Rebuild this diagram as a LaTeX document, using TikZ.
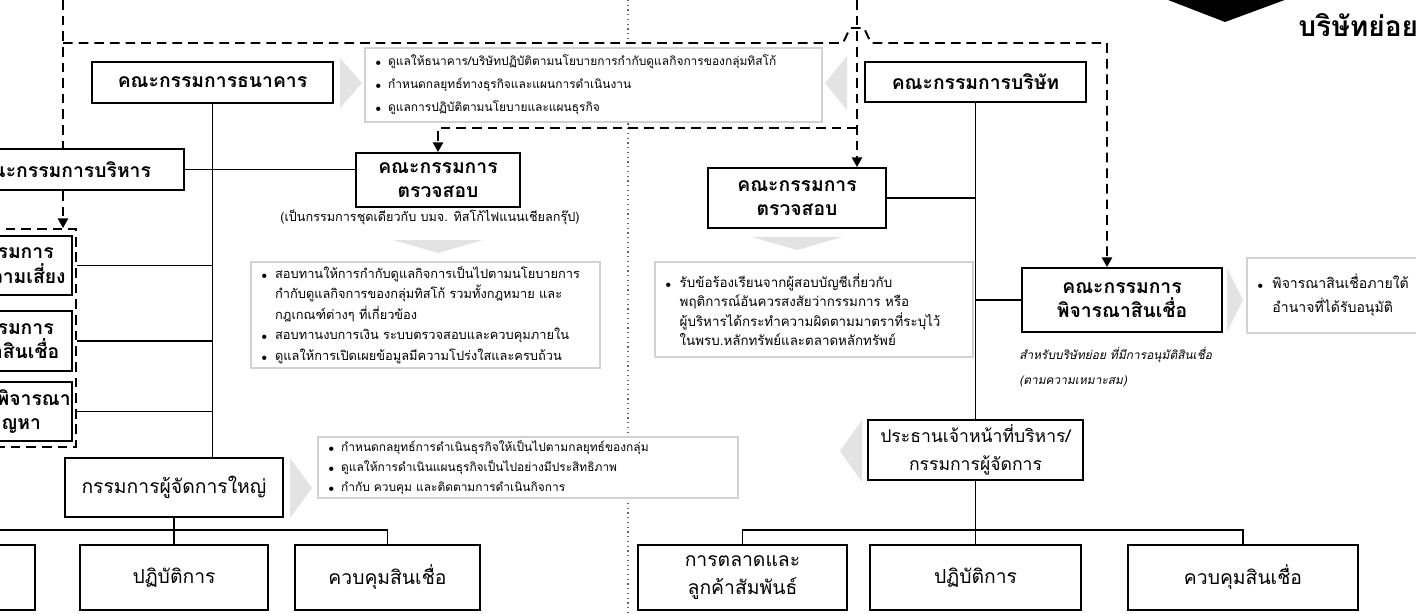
\documentclass[tikz,border=0pt]{standalone}
\usepackage{fontspec}
\newfontfamily\thaifont[Script=Thai,AutoFakeSlant=0.2]{Loma}
\usetikzlibrary{arrows.meta}
\newcommand{\bul}{\makebox[1.1em][l]{$\scriptscriptstyle\bullet$}}
\newcommand{\hang}{\hspace*{1.1em}}
\begin{document}
\begin{tikzpicture}[
  x=0.02cm, y=-0.02cm,
  every node/.style={font=\thaifont, inner sep=0pt, align=center},
  boardbox/.style={draw, line width=1.1pt, fill=white, font=\thaifont\fontsize{11}{14}\selectfont\bfseries},
  unitbox/.style={draw, line width=1.1pt, fill=white, font=\thaifont\fontsize{11}{16}\selectfont},
  dutybox/.style={draw=gray!35, line width=1.2pt, fill=white, align=left, inner xsep=0.2cm, font=\thaifont\fontsize{6.8}{13}\selectfont},
  dutybig/.style={dutybox, font=\thaifont\fontsize{7.3}{11.6}\selectfont},
  graytri/.style={fill=gray!22},
  linkline/.style={line width=1pt},
  dashline/.style={line width=1.1pt, dash pattern=on 5.5pt off 3.4pt},
  arrowed/.style={-{Triangle[width=5.8pt,length=5.5pt]}},
  divline/.style={gray!80!black, line width=0.7pt, dotted},
  grpbox/.style={draw, dashline, minimum width=1.62cm, minimum height=4.36cm}
  ]
  \useasboundingbox (0,0) rectangle (1416,613);
  \clip (0,0) rectangle (1416,613);
  \coordinate (divtop) at (628,0);
  \coordinate (divbot) at (628,613);
  \draw[divline] (divtop) -- (divbot);

  \node[boardbox, minimum width=4.82cm, minimum height=0.82cm] (bankb) at (212.5,82.5) {คณะกรรมการธนาคาร};
  \node[boardbox, minimum width=4.84cm, minimum height=0.82cm] (execb) at (63,169.5) {คณะกรรมการบริหาร};
  \node[grpbox] (grp) at (35.5,338) {};
  \node[boardbox, minimum width=3.12cm, minimum height=1.18cm] (riskb) at (-6,265.5) {คณะกรรมการ\\บริหารความเสี่ยง};
  \node[boardbox, minimum width=3.12cm, minimum height=1.2cm] (credb) at (-6,341) {คณะกรรมการ\\พิจารณาสินเชื่อ};
  \node[boardbox, minimum width=3.92cm, minimum height=1.18cm] (plb) at (-26,411.5) {คณะกรรมการพิจารณา\\สินเชื่อที่มีปัญหา};
  \node[boardbox, minimum width=3.28cm, minimum height=1.08cm] (auditl) at (438,180) {คณะกรรมการ\\ตรวจสอบ};
  \node[font=\thaifont\fontsize{7.2}{11.6}\selectfont] (auditlnote) at (430,217) {(เป็นกรรมการชุดเดียวกับ บมจ. ทิสโก้ไฟแนนเชียลกรุ๊ป)};
  \node[unitbox, minimum width=4.36cm, minimum height=1.18cm] (mdb) at (174,487.5) {กรรมการผู้จัดการใหญ่};
  \node[unitbox, minimum width=3.7cm, minimum height=1.3cm] (lbox1) at (-57.5,577.5) {};
  \node[unitbox, minimum width=3.76cm, minimum height=1.3cm] (lops) at (174,577.5) {ปฏิบัติการ};
  \node[unitbox, minimum width=3.7cm, minimum height=1.3cm] (lcred) at (387.5,577.5) {ควบคุมสินเชื่อ};

  \node[dutybox, text width=8.74cm, minimum height=1.48cm] (note1) at (593.5,85) {\bul ดูแลให้ธนาคาร/บริษัทปฏิบัติตามนโยบายการกำกับดูแลกิจการของกลุ่มทิสโก้\\\bul กำหนดกลยุทธ์ทางธุรกิจและแผนการดำเนินงาน\\\bul ดูแลการปฏิบัติตามนโยบายและแผนธุรกิจ};
  \node[dutybig, text width=6.58cm, minimum height=2.12cm] (note2) at (425.5,315) {\bul สอบทานให้การกำกับดูแลกิจการเป็นไปตามนโยบายการ\\\hang กำกับดูแลกิจการของกลุ่มทิสโก้ รวมทั้งกฎหมาย และ\\\hang กฎเกณฑ์ต่างๆ ที่เกี่ยวข้อง\\\bul สอบทานงบการเงิน ระบบตรวจสอบและควบคุมภายใน\\\bul ดูแลให้การเปิดเผยข้อมูลมีความโปร่งใสและครบถ้วน};
  \node[dutybox, font=\thaifont\fontsize{6.8}{11.6}\selectfont, text width=8cm, minimum height=1.22cm] (note3) at (528,467.5) {\bul กำหนดกลยุทธ์การดำเนินธุรกิจให้เป็นไปตามกลยุทธ์ของกลุ่ม\\\bul ดูแลให้การดำเนินแผนธุรกิจเป็นไปอย่างมีประสิทธิภาพ\\\bul กำกับ ควบคุม และติดตามการดำเนินกิจการ};

  \node[boardbox, minimum width=4.42cm, minimum height=0.8cm] (coboard) at (975.5,82) {คณะกรรมการบริษัท};
  \node[boardbox, minimum width=3.56cm, minimum height=1.2cm] (auditr) at (797,198) {คณะกรรมการ\\ตรวจสอบ};
  \node[dutybig, font=\thaifont\fontsize{7.6}{11}\selectfont, text width=5.96cm, minimum height=1.9cm] (note4) at (814,309.5) {\bul รับข้อร้องเรียนจากผู้สอบบัญชีเกี่ยวกับ\\\hang พฤติการณ์อันควรสงสัยว่ากรรมการ หรือ\\\hang ผู้บริหารได้กระทำความผิดตามมาตราที่ระบุไว้\\\hang ในพรบ.หลักทรัพย์และตลาดหลักทรัพย์};
  \node[boardbox, minimum width=4cm, minimum height=1.28cm] (loanb) at (1122,300) {คณะกรรมการ\\พิจารณาสินเชื่อ};
  \node[dutybig, font=\thaifont\fontsize{8}{13.6}\selectfont, text width=3.26cm, minimum height=1.5cm] (note5) at (1338.5,295.5) {\bul พิจารณาสินเชื่อภายใต้\\\hang อำนาจที่ได้รับอนุมัติ};
  \node[anchor=west, align=left, font=\thaifont\fontsize{6.8}{14}\selectfont\itshape] (loannote) at (1019,367) {สำหรับบริษัทย่อย ที่มีการอนุมัติสินเชื่อ\\(ตามความเหมาะสม)};
  \node[unitbox, font=\thaifont\fontsize{10}{16}\selectfont, minimum width=4.3cm, minimum height=1.2cm] (ceo) at (975.5,450) {ประธานเจ้าหน้าที่บริหาร/\\กรรมการผู้จัดการ};
  \node[unitbox, minimum width=4.18cm, minimum height=1.3cm] (mkt) at (742.5,577.5) {การตลาดและ\\ลูกค้าสัมพันธ์};
  \node[unitbox, minimum width=4.22cm, minimum height=1.3cm] (rops) at (975.5,577.5) {ปฏิบัติการ};
  \node[unitbox, minimum width=4.6cm, minimum height=1.3cm] (rcred) at (1243,577.5) {ควบคุมสินเชื่อ};

  \fill (1163,-2) -- (1225,22) -- (1290,-2) -- cycle;
  \node[anchor=west, font=\thaifont\fontsize{16}{18}\selectfont\bfseries] (subco) at (1298,25) {บริษัทย่อย};

  \fill[graytri] (340,58) -- (340,108) -- (362,83) -- cycle;
  \fill[graytri] (847,56) -- (847,110) -- (825,83) -- cycle;
  \fill[graytri] (393,240) -- (483,240) -- (438,253) -- cycle;
  \fill[graytri] (752,237) -- (842,237) -- (797,250) -- cycle;
  \fill[graytri] (1227,268) -- (1227,332) -- (1243,300) -- cycle;
  \fill[graytri] (290,458) -- (290,518) -- (312,488) -- cycle;
  \fill[graytri] (862,420) -- (862,482) -- (840,451) -- cycle;

  \draw[linkline] (bankb.south) -- (bankb.south |- mdb.north);
  \draw[linkline] (execb.east) -- (execb.east -| auditl.west);
  \draw[linkline] (riskb.east -| grp.east) -- (riskb.east -| bankb.south);
  \draw[linkline] (credb.east -| grp.east) -- (credb.east -| bankb.south);
  \draw[linkline] (plb.east -| grp.east) -- (plb.east -| bankb.south);
  \coordinate (lbus) at (174,530);
  \draw[linkline] (mdb.south) -- (lops.north);
  \draw[linkline] (lbox1.north) |- (lbus) -| (lcred.north);

  \draw[linkline] (coboard.south) -- (ceo.north);
  \draw[linkline] (auditr.east) -- (auditr.east -| coboard.south);
  \draw[linkline] (loanb.west) -- (loanb.west -| coboard.south);
  \coordinate (rbus) at (975.5,530);
  \draw[linkline] (ceo.south) -- (rops.north);
  \draw[linkline] (mkt.north) |- (rbus) -| (rcred.north);

  \coordinate (topL) at (63,0);
  \coordinate (topM) at (857,0);
  \coordinate (hopL) at (843,43);
  \coordinate (hopR) at (871,43);
  \coordinate (loanin) at (1107,43);
  \coordinate (auditjoin) at (857,128);
  \draw[dashline] (topL) -- (execb.north);
  \draw[dashline, arrowed] (execb.south) -- (execb.south |- grp.north);
  \draw[dashline, arrowed] (topL |- hopL) -- (hopL) -- ++(7,-15) -- ++(14,0) -- (hopR) -- (loanin) -- (loanin |- loanb.north);
  \draw[dashline, arrowed] (topM) -- (topM |- auditr.north);
  \draw[dashline, arrowed] (auditjoin) -| (auditl.north);
\end{tikzpicture}
\end{document}
